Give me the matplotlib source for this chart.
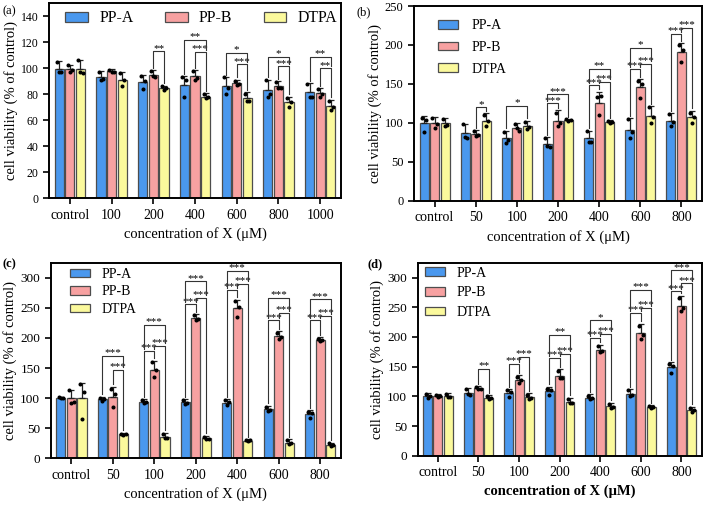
import numpy as np
import matplotlib.pyplot as plt
from matplotlib.patches import Patch

plt.rcParams['font.family'] = ['Liberation Serif', 'DejaVu Serif']

series = ["PP-A", "PP-B", "DTPA"]
colors = ["#4a98ee", "#f7a1a1", "#fbf99c"]

cats_a = ["control", "100", "200", "400", "600", "800", "1000"]
cats_b = ["control", "50", "100", "200", "400", "600", "800"]

# panel (a)
mean_a = [[99.7, 93.2, 89.1, 87.3, 86.0, 83.0, 81.4],
          [99.4, 97.8, 95.0, 93.8, 88.6, 86.6, 80.9],
          [99.7, 91.2, 84.8, 78.3, 77.0, 73.7, 71.2]]
err_a = [[5.6, 4.4, 5.4, 6.5, 7.0, 8.2, 7.2],
         [3.3, 1.8, 3.4, 4.6, 2.6, 3.4, 3.9],
         [6.3, 5.8, 1.8, 2.7, 4.4, 4.6, 4.6]]
pts_a = [[[104.5, 97, 97.5], [97, 91, 91.5], [94, 84, 90], [93, 78, 91], [93, 80, 85], [91, 78, 80], [88, 78, 78]],
         [[102.5, 97, 98.5], [99, 97, 97.5], [98, 94, 93], [98, 91, 92.5], [90.5, 87, 88], [89.5, 85, 85], [84, 78, 80]],
         [[106, 97, 96], [96, 86, 91], [86, 83, 85], [80, 77, 78], [80, 75, 75], [77, 70, 74], [75, 68, 70]]]
sig_a = [(2, 1, 2, "**", 113), (3, 0, 2, "**", 122), (3, 1, 2, "***", 112.5),
         (4, 0, 2, "*", 111.7), (4, 1, 2, "***", 103), (5, 0, 2, "*", 108.7),
         (5, 1, 2, "***", 101.5), (6, 0, 2, "**", 109), (6, 1, 2, "**", 100)]

# panel (b)
mean_b = [[99.3, 86.5, 80.0, 72.8, 80.0, 90.8, 102.7],
          [99.3, 85.6, 94.0, 102.7, 126.0, 145.5, 190.5],
          [99.3, 102.7, 96.0, 103.6, 101.5, 109.0, 107.0]]
err_b = [[9.7, 12, 10, 9.2, 10, 15, 9.3],
         [8.7, 5.2, 6, 13.7, 14, 10.5, 11.5],
         [6.4, 9.3, 6.7, 1.3, 2.1, 12.6, 8.6]]
pts_b = [[[106, 88, 104], [98, 82, 80], [88, 74, 78], [80, 70, 69], [89, 76, 75], [105, 80, 88], [111, 96, 101]],
         [[106, 93, 98], [90, 83, 84], [99, 93, 90], [112, 96, 100], [133, 110, 135], [154, 132, 150], [200, 178, 193]],
         [[105, 96, 97], [110, 96, 102], [101, 92, 95], [104.5, 103, 103.5], [103, 100, 101.5], [120, 100, 107], [113, 100, 108]]]
sig_b = [(1, 1, 2, "*", 120), (2, 0, 2, "*", 121.6), (3, 0, 2, "***", 136.6), (3, 0, 1, "***", 125),
         (4, 0, 2, "**", 169), (4, 1, 2, "***", 153), (4, 0, 1, "***", 148),
         (5, 0, 2, "*", 196), (5, 1, 2, "***", 176), (5, 0, 1, "***", 169),
         (6, 1, 2, "***", 222), (6, 0, 1, "***", 214)]

# panel (c)
mean_c = [[100.4, 98.2, 94.3, 93.2, 92.6, 81.5, 73.2],
          [99.8, 102.6, 147.0, 233.0, 249.5, 203.0, 196.9],
          [99.8, 40.5, 36.0, 33.3, 29.4, 26.0, 22.2]]
err_c = [[2.2, 4.4, 3.9, 5.5, 5.6, 6.1, 7.2],
         [13.9, 16.6, 15, 7, 13.9, 7.7, 4.4],
         [26, 2.2, 6.7, 4.4, 2.8, 5.6, 3.8]]
pts_c = [[[101.5, 99.5, 100], [101, 96, 98], [97, 92, 94], [97, 90, 92.5], [96.5, 88, 93], [86, 79, 80], [77, 67, 75.5]],
         [[113, 92, 94], [115, 86, 107], [160, 135, 146], [238, 229, 232], [262, 234, 252], [209, 199, 201], [199, 195, 196.5]],
         [[124, 65, 110], [41, 39.5, 41], [41, 33, 34], [36, 32, 32], [30.5, 28, 29.7], [30, 23, 25], [25, 20, 21.6]]]
sig_c = [(1, 0, 2, "***", 170), (1, 1, 2, "***", 147),
         (2, 0, 2, "***", 222), (2, 1, 2, "***", 187), (2, 0, 1, "***", 178),
         (3, 0, 2, "***", 294), (3, 1, 2, "***", 267), (3, 0, 1, "***", 256),
         (4, 0, 2, "***", 311), (4, 1, 2, "***", 290), (4, 0, 1, "***", 279.5),
         (5, 0, 2, "***", 266.5), (5, 1, 2, "***", 241.5), (5, 0, 1, "***", 229),
         (6, 0, 2, "***", 264), (6, 1, 2, "***", 236.5), (6, 0, 1, "***", 229)]

# panel (d)
mean_d = [[100.7, 106.4, 105.2, 108.6, 97.9, 104.1, 148.6],
          [100.7, 113.7, 127.8, 135.0, 178.4, 206.0, 252.7],
          [100.7, 97.4, 98.5, 91.2, 83.3, 82.2, 77.1]]
err_d = [[4.5, 7.3, 6.8, 7.9, 5.7, 7.9, 9],
         [2.9, 3.9, 8.4, 10.8, 8.5, 16.3, 16.9],
         [4.5, 4.5, 6.7, 6.7, 6.2, 3.4, 5.6]]
pts_d = [[[104, 98, 100], [112, 104, 103], [110, 99, 106.5], [113, 103, 110], [101, 96, 97], [110, 100, 102], [155, 140, 151]],
         [[103, 99, 100], [116, 112, 113], [133, 123, 127.5], [143, 131, 131], [184, 174, 177], [218, 197, 203], [266, 244, 248]],
         [[104, 99, 99], [100, 95, 97], [103, 96, 96.5], [96, 88, 89.6], [87, 81, 82], [84, 81, 81.6], [81, 74, 76.3]]]
sig_d = [(1, 1, 2, "**", 146), (2, 0, 1, "***", 154.5), (2, 1, 2, "***", 166),
         (3, 0, 2, "**", 204), (3, 0, 1, "***", 164.7), (3, 1, 2, "***", 172),
         (4, 0, 2, "*", 228), (4, 0, 1, "***", 198.5), (4, 1, 2, "***", 205.3),
         (5, 0, 2, "***", 279), (5, 0, 1, "***", 240.5), (5, 1, 2, "***", 249),
         (6, 0, 2, "***", 312), (6, 0, 1, "***", 276.7), (6, 1, 2, "***", 290)]

W = 0.22
OFF = 0.255
JIT = [-0.05, 0.0, 0.05]


def draw_panel(ax, cats, mean, err, pts, sig, ymax, yticks, ytick_fs):
    x = np.arange(len(cats))
    for k in range(3):
        xs = x + (k - 1) * OFF
        ax.bar(xs, mean[k], W, color=colors[k], edgecolor="#4d4d4d", linewidth=0.9, zorder=2)
        ax.errorbar(xs, mean[k], yerr=[np.zeros(len(cats)), err[k]], fmt="none",
                    ecolor="#222222", elinewidth=0.9, capsize=2.2, capthick=0.9, zorder=3)
        for g in range(len(cats)):
            ax.plot(xs[g] + np.array(JIT), pts[k][g], "o", color="black", ms=1.9, zorder=4)
    pad = ymax * 0.012
    for g, i, j, lab, yl in sig:
        legs = []
        for k in (i, j):
            low = mean[k][g] + err[k][g]
            for g2, i2, j2, _, y2 in sig:
                if g2 == g and y2 < yl and i2 <= k <= j2:
                    low = max(low, y2)
            legs.append(low + pad)
        xi = g + (i - 1) * OFF
        xj = g + (j - 1) * OFF
        ax.plot([xi, xi, xj, xj], [legs[0], yl, yl, legs[1]], color="#333333", lw=0.8, zorder=5)
        ax.text((xi + xj) / 2, yl + ymax * 0.003, lab, ha="center", va="baseline", fontsize=8)
    ax.set_xlim(-0.5, len(cats) - 0.5)
    ax.set_ylim(0, ymax)
    ax.set_yticks(yticks)
    ax.set_xticks(x)
    ax.set_xticklabels(cats)
    ax.tick_params(axis="both", width=1.2, length=4, direction="out")
    ax.tick_params(axis="x", labelsize=10)
    ax.tick_params(axis="y", labelsize=ytick_fs)
    for s in ax.spines.values():
        s.set_linewidth(1.4)
    ax.set_ylabel("cell viability (% of control)", fontsize=10.5, labelpad=2)


fig = plt.figure(figsize=(7.09, 5.05), dpi=100)
ax_a = fig.add_axes([0.0691, 0.6073, 0.4119, 0.3862])
ax_b = fig.add_axes([0.5839, 0.6026, 0.4062, 0.3854])
ax_c = fig.add_axes([0.0715, 0.0925, 0.4095, 0.3873])
ax_d = fig.add_axes([0.589, 0.0976, 0.4007, 0.3822])

draw_panel(ax_a, cats_a, mean_a, err_a, pts_a, sig_a, 150, np.arange(0, 141, 20), 8.5)
draw_panel(ax_b, cats_b, mean_b, err_b, pts_b, sig_b, 250, np.arange(0, 251, 50), 9)
draw_panel(ax_c, cats_b, mean_c, err_c, pts_c, sig_c, 325, np.arange(0, 301, 50), 9.5)
draw_panel(ax_d, cats_b, mean_d, err_d, pts_d, sig_d, 325, np.arange(0, 301, 50), 9.5)

xl = "concentration of X (μM)"
ax_a.set_xlabel(xl, fontsize=10.5)
ax_b.set_xlabel(xl, fontsize=10.5)
ax_c.set_xlabel(xl, fontsize=10.5)
ax_d.set_xlabel(xl, fontsize=10.5, fontweight="bold")

handles = [Patch(facecolor=colors[k], edgecolor="#4d4d4d", linewidth=0.9) for k in range(3)]
ax_a.legend(handles, series, loc="upper left", bbox_to_anchor=(0.055, 0.963), ncol=3, frameon=False,
            borderpad=0, borderaxespad=0, fontsize=11.3, handlelength=1.45, handleheight=0.55,
            handletextpad=0.72, columnspacing=2.0)
ax_b.legend(handles, series, loc="upper left", bbox_to_anchor=(0.083, 0.933), frameon=False,
            borderpad=0, borderaxespad=0, fontsize=10, handlelength=1.44, handleheight=0.6,
            handletextpad=1.0, labelspacing=0.63)
ax_c.legend(handles, series, loc="upper left", bbox_to_anchor=(0.066, 0.973), frameon=False,
            borderpad=0, borderaxespad=0, fontsize=10, handlelength=1.44, handleheight=0.6,
            handletextpad=0.86, labelspacing=0.32)
ax_d.legend(handles, series, loc="upper left", bbox_to_anchor=(0.026, 0.979), frameon=False,
            borderpad=0, borderaxespad=0, fontsize=10, handlelength=1.44, handleheight=0.6,
            handletextpad=0.86, labelspacing=0.47)

fig.text(0.004, 0.978, "(a)", fontsize=9, va="center")
fig.text(0.503, 0.975, "(b)", fontsize=9, va="center")
fig.text(0.003, 0.476, "(c)", fontsize=9, va="center", fontweight="bold")
fig.text(0.518, 0.476, "(d)", fontsize=9, va="center", fontweight="bold")

fig.savefig("out.png", dpi=100)
